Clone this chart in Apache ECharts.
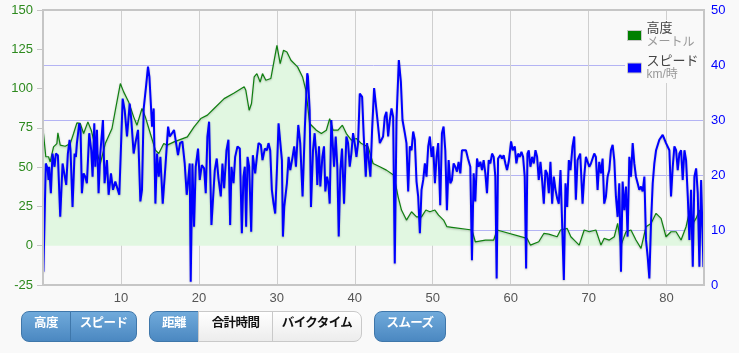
<!DOCTYPE html>
<html lang="ja">
<head>
    <meta charset="UTF-8">
    <title>高度・スピード</title>
    <style>
        html,body{
            width: 739px;
            height: 353px;
            margin: 0;
            padding: 0;
            background: #f9f9f9;
            overflow: hidden;
        }
        #chart{
            position: absolute;
            left: 0;
            top: 0;
            width: 739px;
            height: 353px;
        }
        .btn{
            position: absolute;
            top: 311px;
            height: 31px;
            line-height: 29px;
            box-sizing: border-box;
            text-align: center;
            font: bold 12.5px 'Noto Sans CJK JP', sans-serif;
            letter-spacing: -0.6px;
        }
        .on{
            background: linear-gradient(#70aadb, #4b88c1);
            color: #fff;
            border: 1px solid #3f77aa;
        }
        .off{
            background: linear-gradient(#ffffff, #ececec);
            color: #111;
            border: 1px solid #c9c9c9;
        }
        .l{ border-radius: 8px 0 0 8px; }
        .r{ border-radius: 0 8px 8px 0; }
        .lr{ border-radius: 8px; }
    </style>
</head>
<body>
    <div id="chart"></div>
    <div class="btn on l" style="left:21px;width:50px">高度</div>
    <div class="btn on r" style="left:70px;width:67px">スピード</div>
    <div class="btn on l" style="left:149px;width:50px">距離</div>
    <div class="btn off" style="left:198px;width:75px">合計時間</div>
    <div class="btn off r" style="left:272px;width:90px">バイクタイム</div>
    <div class="btn on lr" style="left:374px;width:72px">スムーズ</div>
    <script src="https://cdn.jsdelivr.net/npm/echarts@6/dist/echarts.min.js"></script>
    <script>
        // 高度 (m) — 距離 (km)
        var elevDist = [0.0,0.36,0.71,0.92,1.35,1.78,1.91,2.21,2.85,3.49,3.92,4.35,4.78,5.21,5.76,6.19,6.71,7.35,7.99,8.85,9.28,9.92,10.35,10.99,11.63,12.06,12.7,13.13,13.77,14.42,14.85,15.49,15.92,
            16.81,18.52,19.38,20.24,21.09,21.95,23.24,24.52,25.81,26.02,26.45,26.75,27.09,27.44,27.86,28.16,28.59,29.23,29.58,30.01,30.43,30.86,31.29,31.81,32.66,33.3,33.73,
            34.21,35.07,35.71,36.35,36.78,37.21,37.85,38.41,38.92,39.56,40.21,40.85,41.71,42.35,43.21,44.06,45.01,45.56,45.99,46.63,47.28,47.92,48.56,49.12,49.63,50.28,
            50.75,51.39,51.82,52.46,55.03,55.46,56.75,57.82,58.25,62.1,62.53,63.6,64.25,64.89,65.96,66.39,67.25,
            67.72,68.15,68.79,69.43,70.08,70.93,71.58,72.0,72.65,73.29,73.72,74.15,74.79,75.43,76.07,76.72,77.36,78.0,78.65,79.29,79.93,80.57,81.22,81.86,82.5,82.93,83.36,83.79,84.21,84.64];
        var elevM = [74.6,56.6,56.6,53.4,62.9,65.0,71.8,64.0,63.3,65.0,71.4,78.2,77.8,71.4,78.8,73.5,62.9,52.3,65.0,74.6,86.2,103.2,97.9,91.5,82.0,76.7,87.3,82.0,71.4,60.8,58.7,65.0,64.0,
            66.1,69.3,75.6,80.9,83.1,87.3,93.6,97.2,101.1,98.9,86.2,90.5,107.4,109.5,104.2,109.5,105.3,106.4,115.9,127.5,115.9,124.4,123.3,118.0,113.8,107.4,98.9,
            77.8,73.5,71.4,73.5,80.9,73.5,73.5,76.7,71.4,67.2,68.2,65.0,62.9,52.3,50.2,48.1,44.9,31.1,22.7,16.3,21.6,18.4,18.4,22.7,21.6,22.7,
            19.5,16.3,12.1,11.7,10.0,2.5,3.6,3.6,10.0,4.7,0.4,2.5,7.8,7.4,5.7,10.0,11.0,
            5.7,3.6,0.4,10.0,8.9,10.0,0.4,4.7,3.6,5.7,14.2,0.4,8.9,10.0,3.6,-1.7,12.1,14.2,20.6,17.4,5.7,8.9,8.9,3.6,12.1,21.6,14.2,17.4,22.7,11.0];

        // スピード (km/時) — 距離 (km)
        var speedDist = [0.05,0.36,0.58,0.71,0.79,1.01,1.22,1.48,1.65,1.91,2.21,2.51,2.76,2.98,3.19,3.41,3.53,3.79,4.05,4.22,4.35,4.65,4.82,4.99,5.21,5.42,5.63,5.93,6.19,6.36,6.58,6.71,6.92,7.13,7.35,7.69,7.9,8.2,8.42,8.72,8.98,9.28,9.53,9.79,10.05,10.22,10.48,10.78,11.12,11.33,11.63,11.85,12.19,12.49,12.7,12.92,13.22,13.47,13.65,13.99,14.2,14.42,14.63,14.85,15.06,15.36,15.7,16.05,16.26,16.56,
            16.81,17.02,17.32,17.58,17.88,18.18,18.44,18.61,18.82,18.95,19.17,19.38,19.59,19.89,20.11,20.37,20.67,20.88,21.09,21.31,21.61,21.82,22.04,22.29,22.51,22.81,23.02,23.24,23.54,23.79,24.01,24.18,24.44,24.65,24.95,25.25,25.51,25.72,25.89,26.06,26.24,26.45,26.71,26.92,27.22,27.44,27.65,27.95,28.16,28.46,28.72,28.93,29.15,29.36,29.58,29.79,30.01,30.22,30.43,30.65,30.78,30.95,31.29,31.51,31.72,32.02,32.23,32.45,32.75,33.0,33.3,33.6,33.9,
            33.99,34.21,34.38,34.64,34.85,35.07,35.19,35.41,35.58,35.84,36.05,36.22,36.44,36.61,36.78,36.99,37.21,37.34,37.55,37.76,37.94,38.15,38.36,38.62,38.92,39.14,39.35,39.56,39.78,39.99,40.21,40.42,40.64,40.94,41.15,41.41,41.58,41.79,42.0,42.22,42.48,42.69,42.91,43.21,43.42,43.63,43.85,44.06,44.28,44.49,44.71,44.92,45.13,45.35,45.65,45.91,46.12,46.42,46.63,46.85,47.06,47.28,47.49,47.7,47.92,48.13,48.35,48.56,48.78,48.99,49.2,49.42,49.63,49.85,50.06,50.28,50.49,50.7,
            50.96,51.18,51.39,51.61,51.82,52.04,52.25,52.46,52.68,52.89,53.11,53.32,53.54,53.75,53.96,54.26,54.52,54.82,55.03,55.25,55.46,55.68,55.89,56.11,56.32,56.53,56.75,56.96,57.18,57.39,57.61,57.82,58.03,58.2,58.38,58.68,58.89,59.1,59.32,59.53,59.75,60.05,60.26,60.52,60.73,60.95,61.16,61.38,61.59,61.8,61.98,62.15,62.32,62.53,62.75,62.96,63.18,63.39,63.6,63.82,64.03,64.25,64.46,64.67,64.89,65.1,65.32,65.53,65.75,65.96,66.17,66.39,66.6,66.82,67.03,67.25,67.46,67.67,
            67.93,68.15,68.36,68.58,68.92,69.22,69.43,69.65,69.86,70.08,70.29,70.5,70.72,70.93,71.15,71.36,71.58,71.79,72.0,72.22,72.43,72.65,72.86,73.08,73.29,73.5,73.72,73.93,74.15,74.36,74.58,74.79,75.0,75.22,75.43,75.65,75.86,76.07,76.29,76.5,76.72,76.93,77.15,77.36,77.57,77.79,78.0,78.22,78.43,78.65,78.86,79.07,79.29,79.5,79.72,79.93,80.14,80.36,80.57,80.79,81.0,81.22,81.43,81.64,81.86,82.07,82.29,82.5,82.72,82.93,83.14,83.36,83.57,83.79,84.0,84.21,84.43,84.73];
        var speedKmh = [2.4,22.1,21.2,19.1,21.5,16.7,23.9,21.5,23.9,23.6,12.4,22.1,22.4,18.2,23.9,26.4,24.5,14.2,23.9,23.3,25.8,29.4,28.2,16.7,20.3,19.7,18.5,27.6,24.5,19.7,29.4,21.5,28.2,16.7,23.9,30.0,18.5,22.7,16.4,20.3,17.3,18.8,18.5,16.4,27.0,33.9,31.8,27.0,33.0,30.0,23.9,25.8,28.2,15.2,17.3,32.1,36.1,39.7,37.9,28.8,32.1,14.8,23.9,19.7,23.3,14.8,21.5,28.8,27.0,27.6,
            28.2,28.5,23.6,25.8,26.1,22.1,16.4,18.8,22.1,0.6,22.1,10.6,21.5,24.8,19.1,21.8,21.2,16.7,27.0,29.7,10.9,11.2,20.9,23.0,19.4,16.1,22.1,17.6,24.5,26.4,10.9,21.5,18.5,23.3,25.2,24.8,9.4,19.7,21.5,10.6,23.3,21.5,9.7,23.6,20.3,23.3,25.8,25.5,22.7,24.8,24.5,25.8,24.5,17.3,14.8,13.0,20.9,29.4,29.1,22.7,8.8,14.2,18.5,23.3,20.9,23.3,25.2,21.5,29.1,25.8,16.1,28.8,38.5,
            37.9,31.8,14.2,24.5,27.6,23.3,18.2,25.2,17.9,23.3,25.2,17.0,19.7,18.5,14.8,30.0,30.0,21.5,27.0,21.5,8.8,20.9,24.8,14.8,27.0,25.8,21.5,23.9,27.6,25.8,23.3,25.8,34.8,34.2,27.0,19.7,25.8,25.8,19.7,28.2,35.8,35.5,30.0,25.8,25.5,27.0,30.6,31.5,27.0,30.0,32.1,30.6,3.9,30.0,40.9,37.0,30.0,27.6,25.8,17.0,25.2,24.5,27.9,26.4,18.8,16.1,9.4,17.3,19.1,22.1,19.7,25.2,27.0,23.3,25.2,18.5,23.3,25.8,
            14.5,27.6,28.8,24.5,13.6,22.7,18.5,19.1,22.1,21.5,20.6,22.4,20.3,24.5,24.8,24.5,23.0,21.5,4.5,20.3,15.2,23.0,21.5,22.4,20.9,22.7,20.3,16.7,22.7,22.1,23.9,23.3,19.7,1.2,23.0,23.6,23.0,23.6,22.1,20.9,22.4,26.1,24.5,25.2,22.1,23.9,23.3,24.2,23.3,19.7,3.0,23.9,24.5,21.5,23.3,22.1,24.5,23.3,19.1,22.4,19.1,14.8,20.9,20.3,16.7,22.4,14.8,19.7,17.3,15.8,14.8,20.9,20.9,0.9,18.5,14.2,22.7,20.9,
            25.2,27.0,15.5,22.7,23.9,14.8,19.7,23.3,23.0,21.5,22.1,22.1,23.9,23.3,17.3,22.4,20.3,23.0,14.8,16.1,19.7,20.9,24.5,25.5,22.7,16.1,12.4,18.5,2.4,18.8,13.6,17.9,8.8,23.3,19.7,25.8,22.1,19.7,18.5,17.3,17.9,17.0,19.7,8.2,5.2,1.2,11.2,18.5,22.1,24.5,24.2,26.4,26.4,27.3,27.3,25.8,25.8,24.5,16.1,21.5,25.2,24.5,20.9,23.9,24.5,19.1,24.5,22.7,16.1,8.2,17.3,3.3,19.7,21.2,16.7,3.3,19.1,3.3];

        var seriesNames = ['高度', 'スピード'];
        var seriesUnits = ['メートル', 'km/時'];

        function zip(xs, ys){
            var res = [];
            for (var i = 0; i < xs.length; i++) {
                res.push([xs[i], ys[i]]);
            }
            return res;
        }

        var myChart = echarts.init(document.getElementById('chart'));
        var option = {
            animation: false,
            textStyle: { fontFamily: "Arial, 'Liberation Sans', 'Noto Sans CJK JP', sans-serif" },
            grid: {
                left: 43, right: 35, top: 10, bottom: 68,
                show: true,
                borderColor: '#c6c6c6',
                borderWidth: 2,
                backgroundColor: 'transparent',
                z: 10
            },
            legend: {
                orient: 'vertical',
                left: 625,
                top: 20,
                itemWidth: 14,
                itemHeight: 10,
                itemGap: 6,
                selectedMode: false,
                backgroundColor: '#f9f9f9',
                padding: [2, 6, 2, 2],
                icon: 'rect',
                data: [
                    { name: seriesNames[0], itemStyle: { color: '#008000', borderColor: '#c8c8c8', borderWidth: 1 } },
                    { name: seriesNames[1], itemStyle: { color: '#0000ff', borderColor: '#c8c8c8', borderWidth: 1 } }
                ],
                formatter: function(name){
                    var u = seriesUnits[seriesNames.indexOf(name)];
                    return '{n|' + name + '}\n{u|' + u + '}';
                },
                textStyle: {
                    rich: {
                        n: { fontSize: 13, color: '#444', lineHeight: 14 },
                        u: { fontSize: 12, color: '#999', lineHeight: 14 }
                    }
                }
            },
            xAxis: {
                type: 'value',
                min: 0,
                max: 84.8,
                interval: 10,
                axisLine: { show: false },
                axisTick: { show: false },
                axisLabel: {
                    color: '#555',
                    fontSize: 13,
                    margin: 7,
                    showMinLabel: false,
                    showMaxLabel: false
                },
                splitLine: { show: true, showMinLine: false, showMaxLine: false, lineStyle: { color: '#cfcfcf', width: 1 } }
            },
            yAxis: [
                {
                    type: 'value',
                    min: -25,
                    max: 150,
                    interval: 25,
                    position: 'left',
                    axisLine: { show: false },
                    axisTick: { show: true, length: 6, lineStyle: { color: '#c6c6c6' } },
                    axisLabel: { color: '#2d8a1e', fontSize: 13, margin: 10 },
                    splitLine: { show: false }
                },
                {
                    type: 'value',
                    min: 0,
                    max: 50,
                    interval: 10,
                    position: 'right',
                    axisLine: { show: false },
                    axisTick: { show: false },
                    axisLabel: { color: '#0000ff', fontSize: 13, margin: 7 },
                    splitLine: { show: true, showMinLine: false, showMaxLine: false, lineStyle: { color: '#b4b4f4', width: 1 } }
                }
            ],
            series: [
                {
                    name: seriesNames[0],
                    type: 'line',
                    yAxisIndex: 0,
                    showSymbol: false,
                    symbol: 'none',
                    data: zip(elevDist, elevM),
                    lineStyle: { color: '#108010', width: 1.2, shadowColor: 'rgba(0,0,0,0.25)', shadowBlur: 2, shadowOffsetY: 1 },
                    itemStyle: { color: '#008000' },
                    areaStyle: { color: '#e1f7e1', opacity: 1, origin: 0 },
                    z: 2
                },
                {
                    name: seriesNames[1],
                    type: 'line',
                    yAxisIndex: 1,
                    showSymbol: false,
                    symbol: 'none',
                    data: zip(speedDist, speedKmh),
                    lineStyle: { color: '#0000ff', width: 2, shadowColor: 'rgba(0,0,0,0.25)', shadowBlur: 2, shadowOffsetY: 1 },
                    itemStyle: { color: '#0000ff' },
                    z: 3
                }
            ]
        };
        myChart.setOption(option);
    </script>
</body>
</html>
